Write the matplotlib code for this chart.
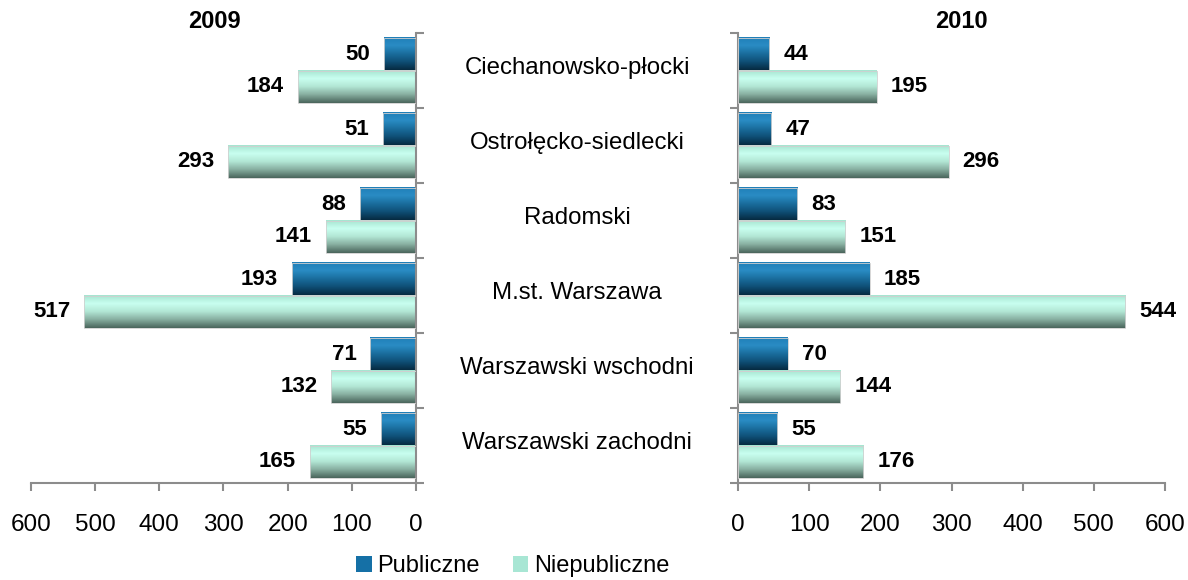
import numpy as np
import matplotlib
matplotlib.use("Agg")
import matplotlib.pyplot as plt
from matplotlib.colors import LinearSegmentedColormap
from matplotlib.patches import Patch
from matplotlib.transforms import blended_transform_factory

plt.rcParams['font.family'] = ['Liberation Sans', 'DejaVu Sans']

categories = ["Ciechanowsko-płocki", "Ostrołęcko-siedlecki", "Radomski",
              "M.st. Warszawa", "Warszawski wschodni", "Warszawski zachodni"]
pub_2009 = [50, 51, 88, 193, 71, 55]
niepub_2009 = [184, 293, 141, 517, 132, 165]
pub_2010 = [44, 47, 83, 185, 70, 55]
niepub_2010 = [195, 296, 151, 544, 144, 176]
years = ["2009", "2010"]
series_names = ["Publiczne", "Niepubliczne"]
ticks = [0, 100, 200, 300, 400, 500, 600]

W, H = 1188, 580
fig = plt.figure(figsize=(W / 100, H / 100), dpi=100)

blue_cmap = LinearSegmentedColormap.from_list(
    "blue", ["#1f7fb8", "#2a8cc4", "#1a6e9e", "#0f4f76", "#062b42"])
teal_cmap = LinearSegmentedColormap.from_list(
    "teal", ["#a6e4d0", "#c9fff0", "#b2e6d4", "#86ad9f", "#4a665c"])
blue_solid = "#1570a6"
teal_solid = "#a8e6d4"

spine_col = "#8c8c8c"
bh = 0.433
y = np.arange(len(categories))

def gradient_bar(ax, rect, cmap):
    x0, y0 = rect.get_x(), rect.get_y()
    w, h = rect.get_width(), rect.get_height()
    grad = np.linspace(0, 1, 64).reshape(-1, 1)
    ax.imshow(grad, cmap=cmap, aspect='auto',
              extent=(x0, x0 + w, y0 + h, y0), zorder=2, interpolation='bilinear')
    ax.add_patch(plt.Rectangle((x0, y0), w, h, fill=False,
                               edgecolor='#d0d0d0', lw=0.6, zorder=3))

def panel(ax, pub, niepub, side):
    b1 = ax.barh(y - bh / 2, pub, height=bh, color='none', zorder=1)
    b2 = ax.barh(y + bh / 2, niepub, height=bh, color='none', zorder=1)
    for r in b1:
        gradient_bar(ax, r, blue_cmap)
    for r in b2:
        gradient_bar(ax, r, teal_cmap)
    ax.set_xlim(0, 600) if side == 'right' else ax.set_xlim(600, 0)
    ax.set_ylim(len(categories) - 0.5, -0.5)
    ax.set_xticks(ticks)
    ax.set_xticklabels([str(t) for t in ticks], fontsize=17.5)
    ax.set_yticks(np.arange(-0.5, len(categories), 1.0))
    ax.set_yticklabels([])
    for s in ax.spines.values():
        s.set_visible(False)
    ax.spines['bottom'].set_visible(True)
    ax.spines['bottom'].set_color(spine_col)
    ax.spines['bottom'].set_linewidth(1.5)
    vs = 'right' if side == 'left' else 'left'
    ax.spines[vs].set_visible(True)
    ax.spines[vs].set_color(spine_col)
    ax.spines[vs].set_linewidth(1.5)
    ax.tick_params(axis='x', direction='out', length=6, width=1.5,
                   color=spine_col, pad=16)
    if side == 'left':
        ax.yaxis.tick_right()
        ax.tick_params(axis='y', direction='out', length=6, width=1.5,
                       color=spine_col, right=True, left=False)
    else:
        ax.tick_params(axis='y', direction='out', length=6, width=1.5,
                       color=spine_col, left=True)
    off = 14 if side == 'right' else -14
    ha = 'left' if side == 'right' else 'right'
    for vals, ys in ((pub, y - bh / 2), (niepub, y + bh / 2)):
        for v, yy in zip(vals, ys):
            ax.annotate(str(v), (v, yy), xytext=(off, 0), textcoords='offset pixels',
                        ha=ha, va='center', fontsize=16, fontweight='bold',
                        color='black', zorder=5)
    ax.set_facecolor('none')

axL = fig.add_axes([31 / W, (H - 483) / H, 385 / W, 450 / H])
axR = fig.add_axes([738 / W, (H - 483) / H, 427 / W, 450 / H])
panel(axL, pub_2009, niepub_2009, 'left')
panel(axR, pub_2010, niepub_2010, 'right')

fig.text(214 / W, (H - 22) / H, years[0], ha='center', va='center',
         fontsize=17, fontweight='bold')
fig.text(961 / W, (H - 22) / H, years[1], ha='center', va='center',
         fontsize=17, fontweight='bold')

tr = blended_transform_factory(fig.transFigure, axR.transData)
for i, c in enumerate(categories):
    axR.text(577 / W, i - 0.03, c, transform=tr, ha='center', va='center',
             fontsize=17.3, clip_on=False)

handles = [Patch(facecolor=blue_solid, edgecolor='none'),
           Patch(facecolor=teal_solid, edgecolor='none')]
fig.legend(handles, series_names, loc='center', bbox_to_anchor=(513 / W, 14 / H),
           ncol=2, frameon=False, fontsize=17, handlelength=0.65, handleheight=0.65,
           handletextpad=0.25, columnspacing=1.4)

fig.savefig("out.png", dpi=100)
